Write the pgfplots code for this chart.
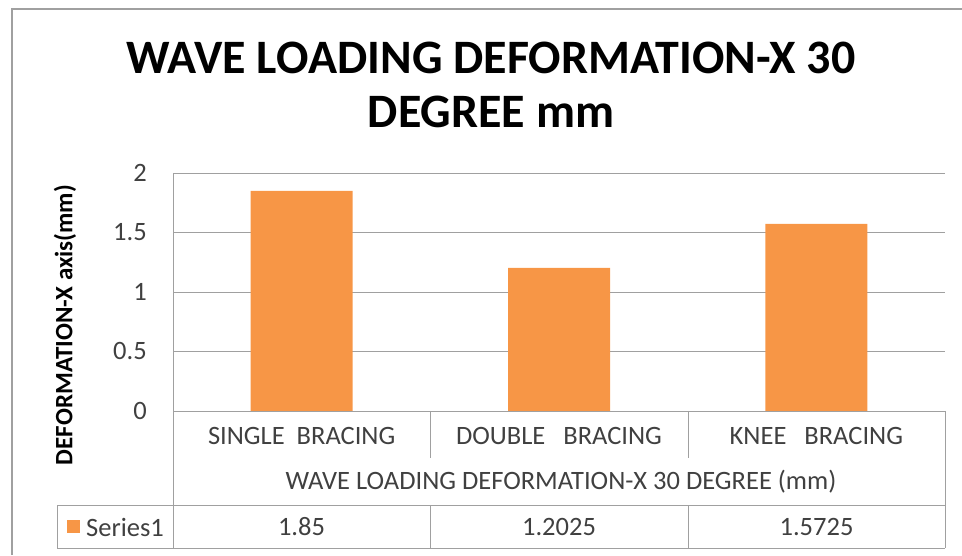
\documentclass[border=0pt]{standalone}
\usepackage{pgfplots}
\pgfplotsset{compat=1.18}
\usepackage{fontspec}
\setmainfont{Carlito}
\definecolor{barorange}{HTML}{F79646}
\definecolor{gridgray}{HTML}{A0A0A0}
\definecolor{txtgray}{HTML}{404040}
\begin{document}
\begin{tikzpicture}[x=1pt,y=1pt]
\path[use as bounding box] (0,0) rectangle (962,555);
% chart border
\draw[gridgray, line width=1.5pt] (12,0) -- (12,546) -- (962,546);
% title
\node[anchor=base, font=\bfseries\fontsize{48}{54}\selectfont] at (491,481) {WAVE LOADING DEFORMATION-X 30};
\node[anchor=base, font=\bfseries\fontsize{48}{54}\selectfont] at (491,427) {DEGREE mm};
% y label
\node[rotate=90, font=\bfseries\fontsize{25}{28}\selectfont] at (65,230) {DEFORMATION-X axis(mm)};
\begin{axis}[
  at={(173pt,144pt)}, anchor=south west,
  scale only axis, width=772pt, height=238pt,
  xmin=-0.5, xmax=2.5, ymin=0, ymax=2,
  ytick={0,0.5,1,1.5,2},
  yticklabels={0,0.5,1,1.5,2},
  xtick={0,1,2},
  xticklabels={SINGLE\ \ BRACING, DOUBLE\ \ \ BRACING, KNEE\ \ \ BRACING},
  major tick length=0pt,
  axis line style={draw=none},
  ymajorgrids, grid style={gridgray, line width=0.9pt},
  yticklabel style={font=\fontsize{26.5}{30}\selectfont, text=txtgray, anchor=east, inner sep=0pt, xshift=-26pt},
  xticklabel style={font=\fontsize{26.5}{30}\selectfont, text=txtgray, anchor=center, inner sep=0pt, yshift=-25pt},
  clip=false,
]
\addplot[ybar, bar width=102pt, fill=barorange, draw=none] coordinates {(0,1.85) (1,1.2025) (2,1.5725)};
\end{axis}
% data table lines
\begin{scope}[gridgray, line width=0.9pt]
\draw (173,382) -- (173,7);
\draw (173,144) -- (945,144);
\draw (430,144) -- (430,97);
\draw (688,144) -- (688,97);
\draw (945,144) -- (945,7);
\draw (57,50) -- (945,50);
\draw (57,7) -- (945,7);
\draw (57,50) -- (57,7);
\draw (430,50) -- (430,7);
\draw (688,50) -- (688,7);
\end{scope}
\node[font=\fontsize{26.5}{30}\selectfont, text=txtgray] at (561,73) {WAVE LOADING DEFORMATION-X 30 DEGREE (mm)};
\fill[barorange] (67,22) rectangle (80,35);
\node[anchor=west, inner sep=0pt, font=\fontsize{26.5}{30}\selectfont, text=txtgray] at (86,28) {Series1};
\node[font=\fontsize{26.5}{30}\selectfont, text=txtgray] at (301.5,28) {1.85};
\node[font=\fontsize{26.5}{30}\selectfont, text=txtgray] at (559,28) {1.2025};
\node[font=\fontsize{26.5}{30}\selectfont, text=txtgray] at (816.5,28) {1.5725};
\end{tikzpicture}
\end{document}
